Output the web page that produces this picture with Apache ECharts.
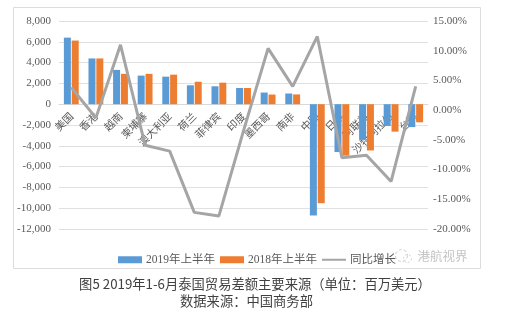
<!DOCTYPE html>
<html>
<head>
<meta charset="utf-8">
<script src="https://cdn.jsdelivr.net/npm/echarts@6/dist/echarts.min.js"></script>
<style>
  html, body { margin: 0; padding: 0; background: #fff; }
  #chart { width: 510px; height: 326px; }
</style>
</head>
<body>
<div id="chart"></div>
<script>
// Thailand's main trade-balance partners, H1 2019 vs H1 2018 (USD million)
const categories = ['美国', '香港', '越南', '柬埔寨', '澳大利亚', '荷兰', '菲律宾', '印度',
  '墨西哥', '南非', '中国', '日本', '阿联酋', '沙特阿拉伯', '台湾'];
const balance2019 = [6400, 4400, 3300, 2750, 2650, 1820, 1720, 1560, 1120, 1030,
  -10700, -4600, -3420, -2090, -2200];
const balance2018 = [6120, 4400, 2920, 2920, 2840, 2160, 2070, 1560, 930, 940,
  -9520, -4950, -4450, -2640, -1740];
// year-on-year change, percent
const yoyChange = [3.8, -1.3, 11.0, -5.9, -6.9, -17.2, -17.8, -3.5, 10.4, 4.0,
  12.4, -8.0, -7.6, -12.0, 4.0];

const seriesNames = ['2019年上半年', '2018年上半年', '同比增长'];
const leftTicks = { min: -12000, max: 8000, step: 2000 };
const rightTicks = { min: -20, max: 15, step: 5 };

const serif = "'Liberation Serif', 'Noto Sans CJK SC', serif";
const cjk = "'Noto Sans CJK SC', sans-serif";

const gridTop = 21, gridBottom = 97, chartH = 326;
// category axis sits on the zero line of the left value axis
const plotH = chartH - gridTop - gridBottom;
const zeroOffset = -plotH * (0 - leftTicks.min) / (leftTicks.max - leftTicks.min);

// thin line legend icon (tiny corner specks keep the full icon box)
const lineIcon = 'path://M0,0L0.01,0L0.01,0.01ZM0,2.6L24,2.6L24,4.4L0,4.4ZM0,7L0.01,7L0.01,6.99Z';

const chart = echarts.init(document.getElementById('chart'), null, { renderer: 'canvas' });

chart.setOption({
  animation: false,
  backgroundColor: '#ffffff',
  grid: { left: 59, right: 82, top: gridTop, bottom: gridBottom, containLabel: false },
  legend: {
    left: 113,
    top: 249,
    itemWidth: 24,
    itemHeight: 7,
    itemGap: 5,
    textStyle: { fontFamily: serif, fontSize: 11.5, color: '#595959', padding: [0, 0, 0, -1] },
    data: [
      { name: seriesNames[0], icon: 'rect' },
      { name: seriesNames[1], icon: 'rect' },
      { name: seriesNames[2], icon: lineIcon, itemStyle: { color: '#A5A5A5' } }
    ]
  },
  xAxis: {
    type: 'category',
    data: categories,
    position: 'bottom',
    offset: zeroOffset,
    axisLine: { onZero: false, lineStyle: { color: '#d9d9d9', width: 1 } },
    axisTick: { show: false },
    axisLabel: {
      interval: 0,
      rotate: 45,
      margin: 10,
      fontFamily: cjk,
      fontSize: 10.5,
      color: '#595959'
    },
    splitLine: { show: false }
  },
  yAxis: [
    {
      type: 'value',
      min: leftTicks.min,
      max: leftTicks.max,
      interval: leftTicks.step,
      axisLine: { show: false },
      axisTick: { show: false },
      axisLabel: { margin: 8, fontFamily: serif, fontSize: 11, color: '#595959' },
      splitLine: { lineStyle: { color: '#e0e0e0', width: 1 } }
    },
    {
      type: 'value',
      min: rightTicks.min,
      max: rightTicks.max,
      interval: rightTicks.step,
      position: 'right',
      axisLine: { show: false },
      axisTick: { show: false },
      axisLabel: {
        margin: 5,
        fontFamily: serif,
        fontSize: 11,
        color: '#595959',
        formatter: v => v.toFixed(2) + '%'
      },
      splitLine: { show: false }
    }
  ],
  series: [
    {
      name: seriesNames[0],
      type: 'bar',
      data: balance2019,
      barWidth: 7,
      barGap: '12%',
      itemStyle: { color: '#5B9BD5' }
    },
    {
      name: seriesNames[1],
      type: 'bar',
      data: balance2018,
      barWidth: 7,
      itemStyle: { color: '#ED7D31' }
    },
    {
      name: seriesNames[2],
      type: 'line',
      yAxisIndex: 1,
      data: yoyChange,
      symbol: 'none',
      lineStyle: { color: '#A5A5A5', width: 3 },
      itemStyle: { color: '#A5A5A5' },
      z: 5
    }
  ],
  graphic: [
    {
      type: 'rect',
      shape: { x: 13.5, y: 7.5, width: 467, height: 261 },
      style: { fill: 'none', stroke: '#dcdcdc', lineWidth: 1 },
      silent: true,
      z: -1
    },
    {
      type: 'group',
      left: 393,
      top: 247,
      children: [
        { type: 'circle', shape: { cx: 8, cy: 7, r: 6 }, style: { fill: 'none', stroke: '#d0d0d0', lineWidth: 1, lineDash: [3, 2] } },
        { type: 'circle', shape: { cx: 14, cy: 10, r: 4 }, style: { fill: 'none', stroke: '#d0d0d0', lineWidth: 1, lineDash: [2, 2] } },
        { type: 'text', x: 24, y: 1, style: { text: '港航视界', fontFamily: cjk, fontSize: 12.5, fill: '#c4c4c4' } }
      ]
    },
    {
      type: 'text',
      left: 'center',
      top: 277,
      style: {
        text: '图5 2019年1-6月泰国贸易差额主要来源（单位：百万美元）',
        fontFamily: cjk,
        fontSize: 13.3,
        fill: '#404040'
      }
    },
    {
      type: 'text',
      x: 180,
      top: 294,
      style: {
        text: '数据来源：中国商务部',
        fontFamily: cjk,
        fontSize: 13.3,
        fill: '#404040'
      }
    }
  ]
});
</script>
</body>
</html>
